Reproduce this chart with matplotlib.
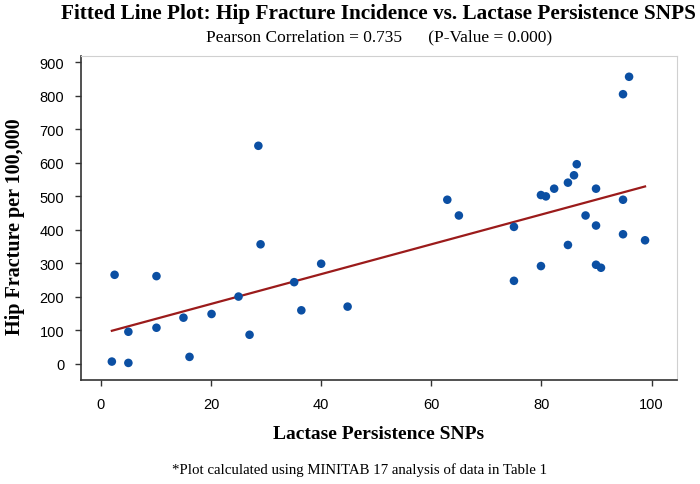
import matplotlib
matplotlib.use('Agg')
import matplotlib.pyplot as plt
import numpy as np

# Lactase persistence SNPs (%) vs hip fracture incidence per 100,000
snps = [2.5, 2.0, 5.0, 5.0, 10.1, 10.1, 15.0, 16.1, 20.1, 25.0, 27.0, 28.6,
        29.0, 35.1, 36.4, 40.0, 44.8, 62.9, 65.0, 75.0, 75.0, 79.9, 80.8,
        79.9, 82.3, 84.8, 85.9, 86.4, 84.8, 88.0, 89.9, 89.9, 89.9, 90.8,
        94.8, 95.9, 94.8, 94.8, 98.8]
hip_fracture = [266, 7, 96, 3, 262, 108, 138, 21, 149, 201, 87, 651,
                357, 244, 160, 299, 171, 490, 443, 409, 248, 504, 500,
                292, 523, 541, 563, 596, 355, 443, 523, 413, 296, 287,
                805, 857, 490, 387, 369]

# fitted line as reported by MINITAB
fit_intercept = 90.0
fit_slope = 4.45
pearson_r = 0.735
p_value = 0.000

x_ticks = [0, 20, 40, 60, 80, 100]
y_ticks = [0, 100, 200, 300, 400, 500, 600, 700, 800, 900]

serif = ['Liberation Serif', 'DejaVu Serif']
sans = ['Liberation Sans Narrow', 'Liberation Sans', 'DejaVu Sans']

x = np.asarray(snps)
y = np.asarray(hip_fracture)

fig = plt.figure(figsize=(7, 4.85), dpi=100)
ax = fig.add_axes([81 / 700, 1 - 381 / 485, 596 / 700, 324 / 485])

xs = np.array([x.min(), x.max()])
ax.plot(xs, fit_intercept + fit_slope * xs, color='#9b1b1b', linewidth=1.6, zorder=2)
ax.scatter(x, y, s=38, color='#0b4fa3', edgecolors='none', zorder=3)

ax.set_xlim(-3.6, 104.6)
ax.set_ylim(-48, 919)
ax.set_xticks(x_ticks)
ax.set_yticks(y_ticks)
for lbl in ax.get_xticklabels() + ax.get_yticklabels():
    lbl.set_family(sans)
    lbl.set_fontsize(10.5)
ax.tick_params(direction='out', length=4, width=1, colors='#333333',
               labelcolor='black', pad=8)

for side in ['top', 'right']:
    ax.spines[side].set_color('#d0d0d0')
for side in ['left', 'bottom']:
    ax.spines[side].set_color('#333333')
    ax.spines[side].set_linewidth(1.2)

ax.set_xlabel('Lactase Persistence SNPs', family=serif, fontweight='bold',
              fontsize=14, labelpad=10)
ax.set_ylabel('Hip Fracture per 100,000', family=serif, fontweight='bold',
              fontsize=14.5)
ax.yaxis.set_label_coords(-0.094, 0.475)

fig.text(378 / 700, 1 - 14 / 485, 'Fitted Line Plot: Hip Fracture Incidence vs. Lactase Persistence SNPS',
         family=serif, fontweight='bold', fontsize=15.3, ha='center', va='center')
fig.text(379 / 700, 1 - 37 / 485,
         f'Pearson Correlation = {pearson_r:.3f}      (P-Value = {p_value:.3f})',
         family=serif, fontsize=12.5, ha='center', va='center')
fig.text(360 / 700, 1 - 470 / 485,
         '*Plot calculated using MINITAB 17 analysis of data in Table 1',
         family=serif, fontsize=10.7, ha='center', va='center')

fig.savefig('out.png', dpi=100)
